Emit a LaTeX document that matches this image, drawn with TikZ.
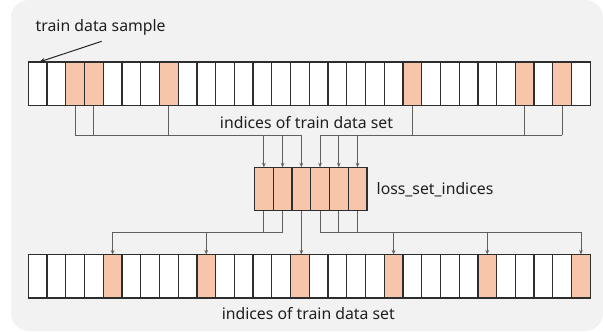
\documentclass[tikz,border=0pt]{standalone}
\usepackage{fontspec}
\setmainfont{Noto Sans}
\usetikzlibrary{arrows.meta}
\definecolor{peach}{HTML}{F7C6AA}
\definecolor{bggray}{HTML}{F2F2F2}
\definecolor{cellline}{HTML}{2E2E2E}
\definecolor{connline}{HTML}{606060}
\begin{document}
\begin{tikzpicture}[x=1pt,y=-1pt,
  cell/.style={draw=cellline, line width=1.3pt, fill=white, minimum width=18.733pt,
    minimum height=43.5pt, inner sep=0pt, outer sep=0pt, anchor=north west},
  hl/.style={fill=peach},
  conn/.style={draw=connline, line width=0.75pt},
  arr/.style={conn, -{Stealth[length=4.5pt,width=3.6pt]}},
  lbl/.style={font=\fontsize{15.8}{18}\selectfont, text=black!88, inner sep=0pt}]
\useasboundingbox (0,0) rectangle (603,332);
\fill[bggray, rounded corners=18pt] (11,0) rectangle (603,331);
% top row
\foreach \i in {0,1,4,5,6,8,9,10,11,12,13,14,15,16,17,18,19,21,22,23,24,25,27,29}
  \node[cell] (t\i) at ({28.3+\i*18.733},62) {};
\foreach \i in {2,3,7,20,26,28}
  \node[cell,hl] (t\i) at ({28.3+\i*18.733},62) {};
% middle
\foreach \j in {0,...,5}
  \node[cell,hl] (m\j) at ({254.5+\j*18.733},167.3) {};
% bottom row
\foreach \i in {0,1,2,3,5,6,7,8,10,11,12,13,15,16,17,18,20,21,22,23,25,26,27,28}
  \node[cell] (b\i) at ({28.3+\i*18.733},254.5) {};
\foreach \i in {4,9,14,19,24,29}
  \node[cell,hl] (b\i) at ({28.3+\i*18.733},254.5) {};
% labels
\node[lbl, anchor=west] (lsample) at (35.5,27.5) {train data sample};
\node[lbl] (ltop) at (306.5,122.5) {indices of train data set};
\node[lbl, anchor=west] (lloss) at (376.5,189.3) {loss\_set\_indices};
\node[lbl] (lbot) at (308.3,313.3) {indices of train data set};
\coordinate (lstart) at (101.7,41.3);
\draw[black!85, line width=1pt, -{Stealth[length=6pt,width=4.5pt]}] (lstart) -- ([xshift=1.5pt]t0.north);
% top connectors
\coordinate (busT) at (0,135.3);
\foreach \i in {2,3,7,20,26,28}
  \draw[conn] (t\i.south) -- (t\i.south |- busT);
\draw[conn] (t2.south |- busT) -- (m2.north |- busT);
\draw[conn] (m3.north |- busT) -- (t28.south |- busT);
\foreach \j in {0,...,5}
  \draw[arr] (m\j.north |- busT) -- (m\j.north);
% bottom connectors
\coordinate (busB) at (0,232);
\foreach \j in {0,1,3,4,5}
  \draw[conn] (m\j.south) -- (m\j.south |- busB);
\draw[conn] (b4.north |- busB) -- (m1.south |- busB);
\draw[conn] (m3.south |- busB) -- (b29.north |- busB);
\foreach \i in {4,9,19,24,29}
  \draw[arr] (b\i.north |- busB) -- (b\i.north);
\draw[arr] (m2.south) -- (m2.south |- b14.north);
\end{tikzpicture}
\end{document}
